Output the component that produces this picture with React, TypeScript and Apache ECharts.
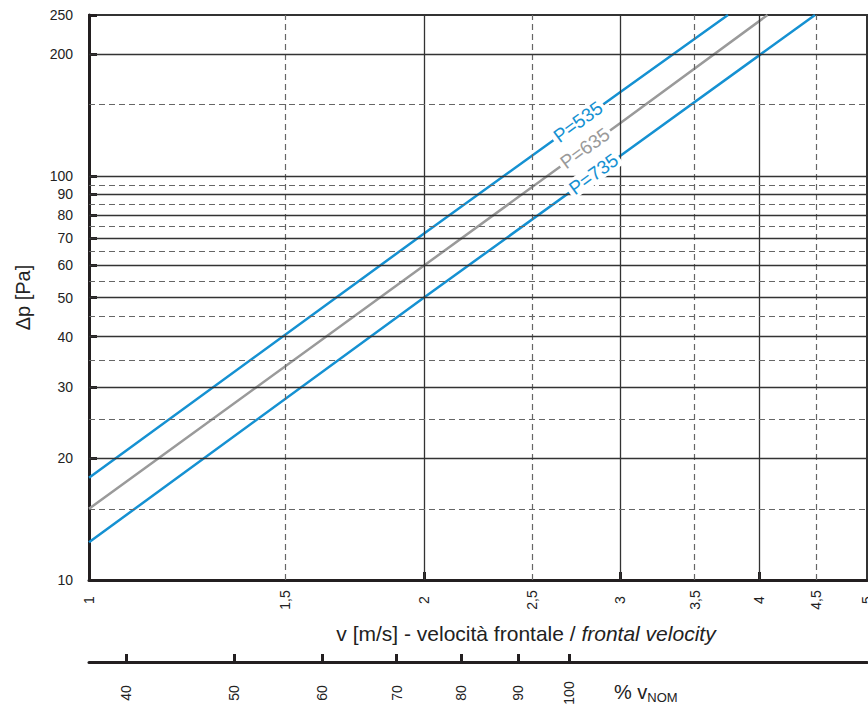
import React, { useEffect, useRef } from "react";
import * as echarts from "echarts";

// Axis ticks / labels
const velocityTicks = [1, 1.5, 2, 2.5, 3, 3.5, 4, 4.5, 5];
const velocityMajorTicks = [2, 3, 4];
const pressureTicks = [10, 20, 30, 40, 50, 60, 70, 80, 90, 100, 200, 250];
const percentTicks = [40, 50, 60, 70, 80, 90, 100];
const nominalVelocity = 2.7; // 100 % v_NOM in m/s

// Grid lines
const xSolid = [2, 3, 4];
const xDashed = [1.5, 2.5, 3.5, 4.5];
const ySolid = [20, 30, 40, 50, 60, 70, 80, 90, 100, 200];
const yDashed = [15, 25, 35, 45, 55, 65, 75, 85, 95, 150];

// Curves
const v535 = [1, 2, 3, 3.75];
const dp535 = [17.9, 72, 161, 250];
const v635 = [1, 2, 3, 4.07];
const dp635 = [15, 60, 135, 250];
const v735 = [1, 2, 3, 4.49];
const dp735 = [12.4, 50, 112, 250];

// Label anchor points on the curves
const label535 = [2.75, 136];
const label635 = [2.79, 117];
const label735 = [2.84, 101];

const BLUE = "#1591d2";
const GRAY = "#9a9a9a";
const DARK = "#231f20";
const FONT = "'Liberation Sans', Arial, sans-serif";

function curve(name: string, xs: number[], ys: number[], color: string, lbl: number[]) {
  return {
    name,
    type: "line",
    xAxisIndex: 0,
    yAxisIndex: 0,
    z: 3,
    symbol: "none",
    data: xs.map((x, i) => [x, ys[i]]),
    lineStyle: { color, width: 2.5 },
    markPoint: {
      symbol: "circle",
      symbolSize: 1,
      itemStyle: { color: "rgba(0,0,0,0)" },
      silent: true,
      data: [{ coord: lbl }],
      label: {
        show: true,
        position: "inside",
        formatter: name,
        rotate: 36,
        color,
        fontSize: 19,
        fontFamily: FONT,
        backgroundColor: "#ffffff",
        padding: [0, 3, 0, 3],
      },
    },
  };
}

export default function App() {
  const ref = useRef<HTMLDivElement>(null);
  useEffect(() => {
    document.body.style.margin = "0";
    const chart = echarts.init(ref.current!, null, { renderer: "svg" });
    const gridLines = [
      ...xSolid.map((v) => ({ xAxis: v, lineStyle: { color: "#333", width: 1.3, type: "solid" } })),
      ...xDashed.map((v) => ({ xAxis: v, lineStyle: { color: "#666", width: 1.2, type: [6, 4] } })),
      ...ySolid.map((v) => ({ yAxis: v, lineStyle: { color: "#333", width: 1.3, type: "solid" } })),
      ...yDashed.map((v) => ({ yAxis: v, lineStyle: { color: "#666", width: 1.2, type: [6, 4] } })),
    ];
    chart.setOption({
      animation: false,
      backgroundColor: "#ffffff",
      textStyle: { fontFamily: FONT },
      grid: {
        left: 89,
        top: 15,
        right: 1,
        bottom: 124,
        outerBoundsMode: "none",
        containLabel: false,
        show: true,
        borderColor: "#333",
        borderWidth: 2,
        backgroundColor: "#fff",
      },
      xAxis: [
        {
          type: "log",
          logBase: 10,
          min: 1,
          max: 5,
          position: "bottom",
          axisLine: { lineStyle: { color: DARK, width: 3 } },
          axisTick: {
            show: true,
            inside: true,
            length: 8,
            lineStyle: { color: DARK, width: 3 },
            customValues: velocityMajorTicks,
          },
          axisLabel: {
            customValues: velocityTicks,
            rotate: 90,
            align: "center",
            verticalAlign: "middle",
            margin: 20,
            fontSize: 14,
            color: "#222",
            showMinLabel: true,
            showMaxLabel: true,
            hideOverlap: false,
            formatter: (v: number) => String(v).replace(".", ","),
          },
          splitLine: { show: false },
          minorTick: { show: false },
        },
        {
          type: "log",
          logBase: 10,
          min: 100 / nominalVelocity,
          max: (100 / nominalVelocity) * 5,
          position: "bottom",
          offset: 82,
          axisLine: { lineStyle: { color: DARK, width: 3 } },
          axisTick: {
            show: true,
            inside: true,
            length: 8,
            lineStyle: { color: DARK, width: 3 },
            customValues: percentTicks,
          },
          axisLabel: {
            customValues: percentTicks,
            rotate: 90,
            align: "center",
            verticalAlign: "middle",
            margin: 31,
            fontSize: 14,
            color: "#222",
            hideOverlap: false,
          },
          splitLine: { show: false },
        },
      ],
      yAxis: {
        type: "log",
        logBase: 10,
        min: 10,
        max: 250,
        name: "Δp [Pa]",
        nameLocation: "middle",
        nameGap: 56,
        nameRotate: 90,
        nameTextStyle: { fontSize: 20, color: "#222", fontFamily: FONT },
        axisLine: { lineStyle: { color: DARK, width: 3 } },
        axisTick: {
          show: true,
          inside: true,
          length: 8,
          lineStyle: { color: DARK, width: 3 },
          customValues: pressureTicks,
        },
        axisLabel: {
          customValues: pressureTicks,
          margin: 16,
          fontSize: 14,
          color: "#222",
          showMinLabel: true,
          showMaxLabel: true,
          hideOverlap: false,
        },
        splitLine: { show: false },
        minorTick: { show: false },
      },
      series: [
        {
          name: "grid",
          type: "line",
          xAxisIndex: 0,
          yAxisIndex: 0,
          z: 1,
          symbol: "none",
          data: [[1, 10]],
          lineStyle: { width: 0 },
          markLine: {
            silent: true,
            symbol: ["none", "none"],
            label: { show: false },
            data: gridLines,
          },
        },
        curve("P=535", v535, dp535, BLUE, label535),
        curve("P=635", v635, dp635, GRAY, label635),
        curve("P=735", v735, dp735, BLUE, label735),
      ],
      graphic: [
        {
          type: "text",
          x: 526,
          y: 633,
          style: {
            text: "{a|v [m/s] - velocità frontale / }{b|frontal velocity}",
            align: "center",
            verticalAlign: "middle",
            rich: {
              a: { fontSize: 21, fontFamily: FONT, fill: "#222" },
              b: { fontSize: 21, fontFamily: FONT, fontStyle: "italic", fill: "#222" },
            },
          },
        },
        {
          type: "text",
          x: 614,
          y: 692,
          style: {
            text: "{p|% v}{s|NOM}",
            align: "left",
            verticalAlign: "middle",
            rich: {
              p: { fontSize: 20, fontFamily: FONT, fill: "#222", lineHeight: 24, verticalAlign: "middle" },
              s: { fontSize: 13, fontFamily: FONT, fill: "#222", lineHeight: 24, verticalAlign: "bottom", padding: [10, 0, 0, 0] },
            },
          },
        },
      ],
    });
    return () => chart.dispose();
  }, []);
  return <div ref={ref} style={{ width: 868, height: 704 }} />;
}
